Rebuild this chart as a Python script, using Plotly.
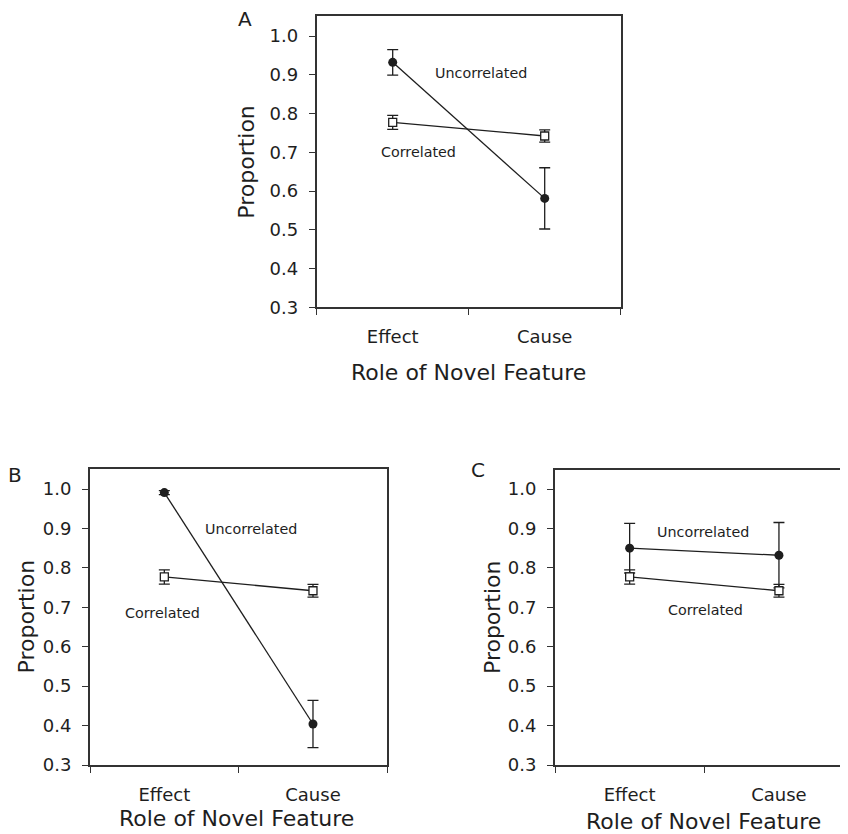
import plotly.graph_objects as go

categories = ["Effect", "Cause"]
series_names = ["Uncorrelated", "Correlated"]
panels = ["A", "B", "C"]

# Proportions per panel
uncorr_A = [0.932, 0.581]
uncorr_A_err = [0.033, 0.079]
uncorr_B = [0.991, 0.404]
uncorr_B_err = [0.005, 0.060]
uncorr_C = [0.850, 0.832]
uncorr_C_err = [0.063, 0.083]
corr_vals = [0.777, 0.742]
corr_err = [0.018, 0.016]

y_ticks = [0.3, 0.4, 0.5, 0.6, 0.7, 0.8, 0.9, 1.0]
y_ticktext = ["0.3", "0.4", "0.5", "0.6", "0.7", "0.8", "0.9", "1.0"]

# page has an 8px body margin; figure fills the rest of the 848x834 window
OFF = 8
W, H = 848 - OFF, 834 - OFF
FONT = "DejaVu Sans"
INK = "#1e1e1e"
BOX = "#333333"

def px_x(p):
    return (p - OFF) / W

def px_y(p):
    return 1 - (p - OFF) / H

fig = go.Figure()

panel_cfg = {
    "A": dict(unc=uncorr_A, unc_err=uncorr_A_err,
              xdom=[px_x(316.7), px_x(620.7)], ydom=[px_y(307.3), px_y(16)],
              yrange=[0.3, 1.0516], xrange=[-0.5, 1.5], mirror_y=True,
              lab_unc=(0.579, 0.905), lab_cor=(0.168, 0.7015),
              xt=(468.7, 372.3), yt=(246.7, 162), letter=(245.3, 19)),
    "B": dict(unc=uncorr_B, unc_err=uncorr_B_err,
              xdom=[px_x(90), px_x(387.3)], ydom=[px_y(765), px_y(469.3)],
              yrange=[0.3, 1.05], xrange=[-0.5, 1.5], mirror_y=True,
              lab_unc=(0.581, 0.898), lab_cor=(-0.011, 0.686),
              xt=(236.5, 818), yt=(26.7, 616.7), letter=(15, 475)),
    "C": dict(unc=uncorr_C, unc_err=uncorr_C_err,
              xdom=[px_x(555), 1.0], ydom=[px_y(765), px_y(470)],
              yrange=[0.3, 1.0482], xrange=[-0.5, (848 - 555) / 149.3 - 0.5], mirror_y=False,
              lab_unc=(0.493, 0.891), lab_cor=(0.505, 0.693),
              xt=(703, 821.7), yt=(492.3, 616.7), letter=(477.7, 470)),
}

annotations = []
for i, name in enumerate(panels):
    cfg = panel_cfg[name]
    n = i + 1
    xa = "x" if n == 1 else f"x{n}"
    ya = "y" if n == 1 else f"y{n}"
    fig.add_trace(go.Scatter(
        x=categories, y=cfg["unc"], xaxis=xa, yaxis=ya, mode="lines+markers",
        name=series_names[0], showlegend=False,
        line=dict(color=INK, width=1.3),
        marker=dict(symbol="circle", size=9, color=INK),
        error_y=dict(type="data", array=cfg["unc_err"], color=INK, thickness=1.3, width=5.5),
    ))
    fig.add_trace(go.Scatter(
        x=categories, y=corr_vals, xaxis=xa, yaxis=ya, mode="lines+markers",
        name=series_names[1], showlegend=False,
        line=dict(color=INK, width=1.3),
        marker=dict(symbol="square", size=8, color="white", line=dict(color=INK, width=1.3)),
        error_y=dict(type="data", array=corr_err, color=INK, thickness=1.3, width=5.5),
    ))
    xkey = "xaxis" if n == 1 else f"xaxis{n}"
    ykey = "yaxis" if n == 1 else f"yaxis{n}"
    fig.update_layout(**{
        xkey: dict(domain=cfg["xdom"], anchor=ya, type="category",
                   categoryorder="array", categoryarray=categories,
                   range=cfg["xrange"], tickson="boundaries", automargin=False,
                   ticks="outside", ticklen=6, tickwidth=1.3, tickcolor=BOX,
                   showline=True, linecolor=BOX, linewidth=1.8, mirror=True,
                   showgrid=False, zeroline=False, ticklabelstandoff=12,
                   tickfont=dict(family=FONT, size=18, color=INK), fixedrange=True),
        ykey: dict(domain=cfg["ydom"], anchor=xa, range=cfg["yrange"], automargin=False,
                   tickvals=y_ticks, ticktext=y_ticktext,
                   ticks="outside", ticklen=6, tickwidth=1.3, tickcolor=BOX,
                   showline=True, linecolor=BOX, linewidth=1.8, mirror=cfg["mirror_y"],
                   showgrid=False, zeroline=False, ticklabelstandoff=7,
                   tickfont=dict(family=FONT, size=18, color=INK), fixedrange=True),
    })
    annotations.append(dict(x=cfg["lab_unc"][0], y=cfg["lab_unc"][1], xref=xa, yref=ya,
                            text="Uncorrelated", showarrow=False,
                            xanchor="center", yanchor="middle",
                            font=dict(family=FONT, size=14.3, color=INK)))
    annotations.append(dict(x=cfg["lab_cor"][0], y=cfg["lab_cor"][1], xref=xa, yref=ya,
                            text="Correlated", showarrow=False,
                            xanchor="center", yanchor="middle",
                            font=dict(family=FONT, size=14.3, color=INK)))
    annotations.append(dict(x=px_x(cfg["xt"][0]), y=px_y(cfg["xt"][1]), xref="paper", yref="paper",
                            text="Role of Novel Feature", showarrow=False,
                            xanchor="center", yanchor="middle",
                            font=dict(family=FONT, size=22, color=INK)))
    annotations.append(dict(x=px_x(cfg["yt"][0]), y=px_y(cfg["yt"][1]), xref="paper", yref="paper",
                            text="Proportion", showarrow=False, textangle=-90,
                            xanchor="center", yanchor="middle",
                            font=dict(family=FONT, size=22, color=INK)))
    annotations.append(dict(x=px_x(cfg["letter"][0]), y=px_y(cfg["letter"][1]), xref="paper", yref="paper",
                            text=name, showarrow=False,
                            xanchor="center", yanchor="middle",
                            font=dict(family=FONT, size=20, color=INK)))

fig.update_layout(width=W, height=H, margin=dict(l=0, r=0, t=0, b=0, autoexpand=False),
                  template="none",
                  paper_bgcolor="white", plot_bgcolor="white",
                  annotations=annotations, showlegend=False)

fig.write_html("out.html", config={"displayModeBar": False})
